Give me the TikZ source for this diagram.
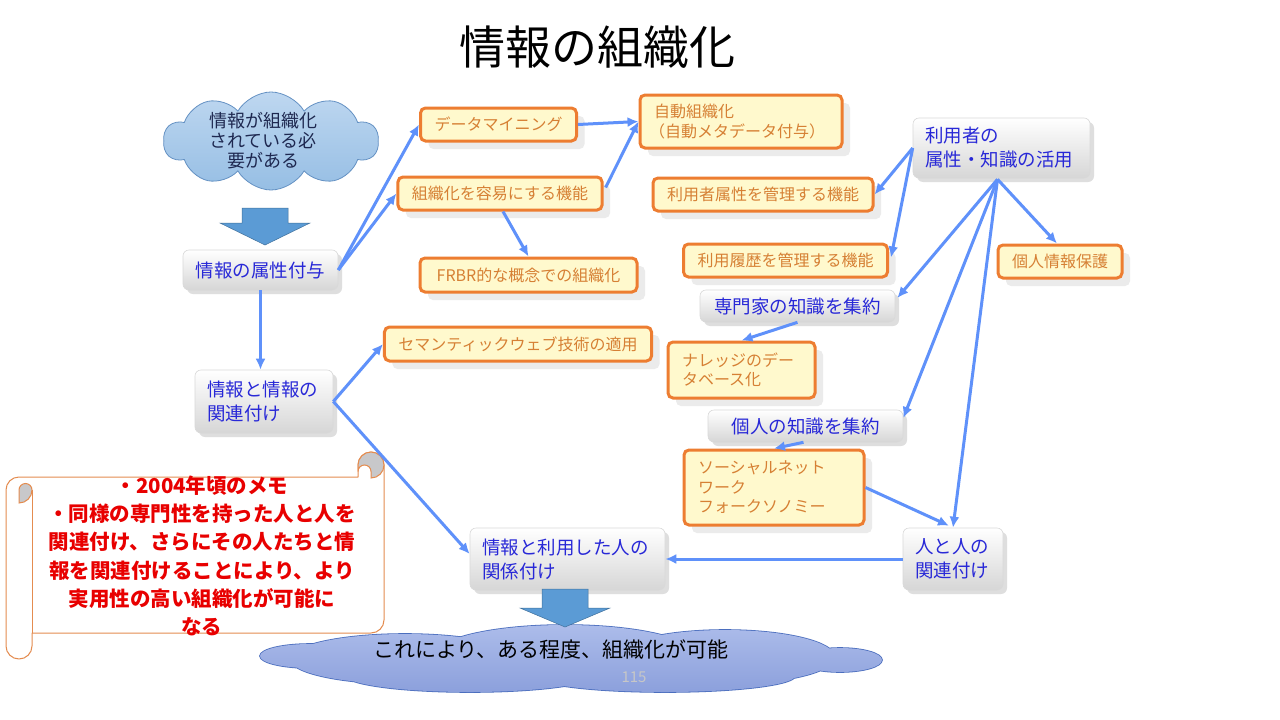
\documentclass[tikz,border=0pt]{standalone}
\usepackage{fontspec}
\setmainfont{Noto Sans CJK JP}
\usetikzlibrary{arrows.meta,shapes.symbols,shadows,calc}

\definecolor{arrowblue}{RGB}{95,145,250}
\definecolor{boxorange}{RGB}{237,125,49}
\definecolor{boxfill}{RGB}{255,249,205}
\definecolor{otext}{RGB}{214,128,52}
\definecolor{btext}{RGB}{40,40,215}
\definecolor{blockblue}{RGB}{91,155,213}
\definecolor{blockline}{RGB}{65,113,156}
\definecolor{cloudtop}{RGB}{190,215,240}
\definecolor{cloudbot}{RGB}{150,190,228}
\definecolor{cloudline}{RGB}{100,145,195}
\definecolor{cloudtwotop}{RGB}{172,188,234}
\definecolor{cloudtwobot}{RGB}{140,160,220}
\definecolor{cloudtwoline}{RGB}{75,110,190}
\definecolor{navytext}{RGB}{30,40,80}
\definecolor{memored}{RGB}{232,0,0}
\definecolor{scrollline}{RGB}{228,140,80}
\definecolor{curlgrey}{RGB}{200,200,202}

% outline of the closing cloud: a union of overlapping ellipses
\newcommand\resultcloudpath{%
  (310,-656) ellipse [x radius=50, y radius=12]
  (405,-659) ellipse [x radius=115, y radius=25]
  (565,-655) ellipse [x radius=130, y radius=30]
  (725,-657) ellipse [x radius=110, y radius=27]
  (840,-660) ellipse [x radius=42, y radius=12]
  (470,-675) ellipse [x radius=125, y radius=17]
  (665,-676) ellipse [x radius=130, y radius=16]}

\begin{document}
\begin{tikzpicture}[x=1pt,y=1pt,
  arr/.style={draw=arrowblue, line width=3pt, -{Latex[length=11pt,width=10pt]}},
  greybox/.style={draw=black!15, line width=0.6pt, top color=white, bottom color=black!16,
    rounded corners=6pt, text=btext, font=\fontsize{18.5}{24}\selectfont,
    inner xsep=12pt, inner ysep=0pt,
    drop shadow={shadow xshift=4pt, shadow yshift=-4pt, fill=black!25, opacity=0.5}},
  orangebox/.style={draw=boxorange, line width=3pt, fill=boxfill, rounded corners=5pt,
    text=otext, font=\fontsize{16}{19.5}\selectfont, inner xsep=14pt, inner ysep=0pt,
    drop shadow={shadow xshift=8pt, shadow yshift=-8pt, fill=black!8, opacity=1}},
  blockarrow/.style={fill=blockblue, draw=blockline, line width=0.5pt, line join=miter},
  cloudnode/.style={cloud, cloud puffs=10, cloud puff arc=120, cloud ignores aspect, inner sep=0pt}
]
\useasboundingbox (0,0) rectangle (1280,-720);
\fill[white] (0,0) rectangle (1280,-720);

% title
\node[font=\fontsize{46}{50}\selectfont] (title) at (597,-47) {情報の組織化};

% starting cloud and the block arrow beneath it
\node[cloudnode, minimum width=215, minimum height=98, top color=cloudtop, bottom color=cloudbot,
  draw=cloudline, line width=0.8pt] (need) at (271,-141) {};
\node[text=navytext, align=center, font=\fontsize{18}{20}\selectfont] (needtext) at (263,-141)
  {情報が組織化\\されている必\\要がある};
\draw[blockarrow] (242,-208) -- (288,-208) -- (288,-223) -- (310,-223) -- (265,-245)
  -- (220,-223) -- (242,-223) -- cycle;

% left column
\node[greybox, minimum width=155, minimum height=40] (attr) at (260.5,-270) {情報の属性付与};
\node[greybox, text width=114, align=left, minimum height=63] (rel) at (264,-401.5)
  {情報と情報の\\関連付け};

% orange feature boxes
\node[orangebox, minimum width=153, minimum height=33] (dm) at (498.5,-124.5) {データマイニング};
\node[orangebox, text width=174, align=left, minimum height=53] (auto) at (741,-121.5)
  {自動組織化\\\hspace*{-5pt}（自動メタデータ付与）};
\node[orangebox, minimum width=200, minimum height=33] (easy) at (500,-193.5) {組織化を容易にする機能};
\node[orangebox, minimum width=217, minimum height=34] (frbr) at (528.5,-275) {FRBR的な概念での組織化};
\node[orangebox, minimum width=216, minimum height=33] (uattr) at (763,-194.5) {利用者属性を管理する機能};
\node[orangebox, minimum width=201, minimum height=33] (hist) at (785.5,-260.5) {利用履歴を管理する機能};
\node[orangebox, minimum width=120, minimum height=33] (priv) at (1060,-261.5) {個人情報保護};
\node[orangebox, minimum width=266, minimum height=34] (sem) at (518,-344) {セマンティックウェブ技術の適用};
\node[orangebox, text width=119, align=left, minimum height=56] (know) at (741.5,-370)
  {ナレッジのデー\\タベース化};
\node[orangebox, text width=152, align=left, minimum height=75] (social) at (774,-487.5)
  {ソーシャルネット\\ワーク\\フォークソノミー};

% user-side boxes
\node[greybox, text width=153, align=left, minimum height=60] (use) at (1001.5,-148)
  {利用者の\\属性・知識の活用};
\node[greybox, minimum width=195, minimum height=32] (expert) at (797.5,-306) {専門家の知識を集約};
\node[greybox, minimum width=195, minimum height=32] (indiv) at (805.5,-426) {個人の知識を集約};
\node[greybox, text width=76, align=left, minimum height=62] (pp) at (953,-559)
  {人と人の\\関連付け};
\node[greybox, text width=171, align=left, minimum height=62] (infouser) at (567.5,-559)
  {情報と利用した人の\\関係付け};

% memo scroll
\filldraw[draw=scrollline, line width=1pt, fill=white, line join=round]
  (19,-477) -- (358,-477) -- (358,-465) arc[start angle=180, end angle=0, radius=13]
  -- (384,-620) arc[start angle=0, end angle=-90, radius=13]
  -- (32,-633) -- (32,-646) arc[start angle=0, end angle=-180, radius=13]
  -- (6,-490) arc[start angle=180, end angle=90, radius=13] -- cycle;
\draw[scrollline, line width=1pt] (32,-490) -- (32,-633);
\filldraw[draw=scrollline, line width=1pt, fill=curlgrey]
  (19,-490) arc[start angle=180, end angle=0, radius=6.5]
  arc[start angle=0, end angle=-90, radius=13] -- cycle;
\filldraw[draw=scrollline, line width=1pt, fill=curlgrey]
  (358,-465) arc[start angle=180, end angle=-90, radius=13]
  -- (371,-471.5) arc[start angle=0, end angle=180, radius=6.5] -- cycle;
\node[text=memored, align=center, font=\bfseries\fontsize{20.5}{28.3}\selectfont] (memo) at (202,-556)
  {・2004年頃のメモ\\・同様の専門性を持った人と人を\\関連付け、さらにその人たちと情\\報を関連付けることにより、より\\実用性の高い組織化が可能に\\なる};

% closing cloud: stroke all lobes, then shade their union on top
\path[draw=cloudtwoline, line width=1.6pt] \resultcloudpath;
\shade[top color=cloudtwotop, bottom color=cloudtwobot] \resultcloudpath;
\node[font=\fontsize{21}{24}\selectfont] (resulttext) at (551,-650) {これにより、ある程度、組織化が可能};
\node[text=black!22, font=\fontsize{15}{18}\selectfont] (pagenum) at (634,-677) {115};
\draw[blockarrow] (542,-589) -- (588,-589) -- (588,-608) -- (610,-608) -- (565,-627)
  -- (520,-608) -- (542,-608) -- cycle;

% connectors
\coordinate (hub) at ($(use.south)+(-4,-1)$);
\draw[arr] (attr.east) -- (dm.west);
\draw[arr] (attr.east) -- (easy.west);
\draw[arr] (dm.east) -- (auto.west);
\draw[arr] ($(easy.east)+(2,6)$) -- (auto.west);
\draw[arr] ($(easy.south)+(3,0)$) -- (frbr.north);
\draw[arr] (attr.south) -- (attr.south |- rel.north);
\draw[arr] (rel.east) -- (sem.west);
\draw[arr] (rel.east) -- ($(infouser.west)+(0,5)$);
\draw[arr] (use.west) -- (uattr.east);
\draw[arr] (use.west) -- ($(hist.east)+(2,3)$);
\draw[arr] (hub) -- ($(priv.north)+(-3,0)$);
\draw[arr] (hub) -- ($(expert.east)+(2,8)$);
\draw[arr] (hub) -- ($(indiv.east)+(0,8)$);
\draw[arr] (hub) -- (pp.north);
\draw[arr] (social.east) -- ($(pp.north)+(-4,2)$);
\draw[arr] (expert.south) -- (know.north);
\draw[arr] ($(indiv.south)+(-2,0)$) -- (social.north);
\draw[arr] (pp.west) -- (infouser.east);
\end{tikzpicture}
\end{document}
